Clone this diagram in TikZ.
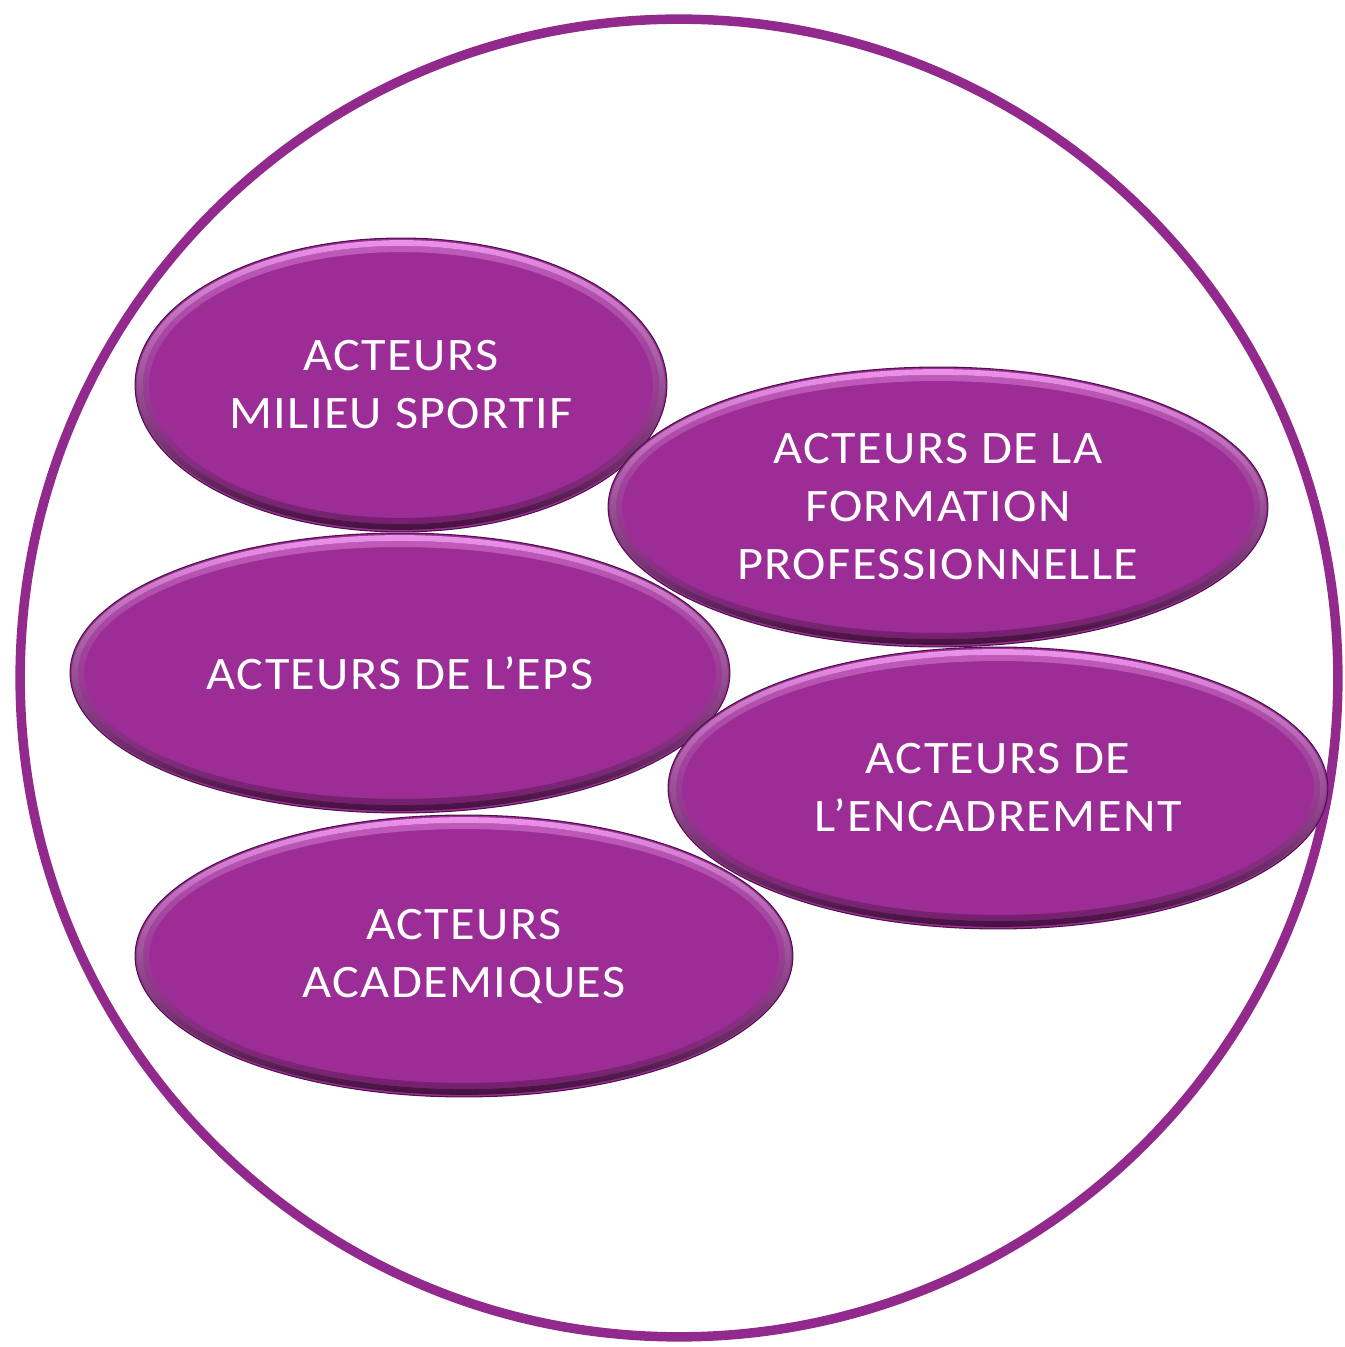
\documentclass[tikz,border=0pt]{standalone}
\usepackage{fontspec}
\setmainfont{Carlito}[FakeStretch=1.08, LetterSpace=3]
\usetikzlibrary{shapes.geometric}
\definecolor{mainp}{HTML}{9C2D96}
\definecolor{ringc}{HTML}{922A8E}
\definecolor{edgep}{HTML}{4A1448}
\definecolor{hil}{HTML}{EC92EA}
\definecolor{shd}{HTML}{45103F}
\tikzset{
  ell/.style 2 args={shape=ellipse, inner sep=0pt,
    minimum width=#1*0.04cm, minimum height=#2*0.04cm,
    fill=mainp, draw=edgep, line width=0.6pt,
    text=white, align=center,
    font=\fontsize{26.5}{33}\selectfont,
    path picture={
      \shade[even odd rule, top color=hil, middle color=mainp, bottom color=shd]
        (path picture bounding box.center) ellipse [x radius=#1*0.02cm-1.2pt, y radius=#2*0.02cm-1.2pt]
        (path picture bounding box.center) ellipse [x radius=#1*0.02cm-4.5pt, y radius=#2*0.02cm-4.5pt];
      \shade[even odd rule, top color=hil, middle color=mainp, bottom color=shd, opacity=0.45]
        (path picture bounding box.center) ellipse [x radius=#1*0.02cm-4.5pt, y radius=#2*0.02cm-4.5pt]
        (path picture bounding box.center) ellipse [x radius=#1*0.02cm-8pt, y radius=#2*0.02cm-8pt];
    }},
  ring/.style={circle, inner sep=0pt, draw=ringc, line width=0.19cm}
}
\begin{document}
\begin{tikzpicture}[x=0.02cm, y=0.02cm]
\useasboundingbox (0,0) rectangle (1345,1347);
\node[ring, minimum size=26.36cm] (outer) at (679,669) {};
\node[ell={266}{147}] (sport) at (401,962) {ACTEURS\\MILIEU SPORTIF};
\node[ell={330}{140}] (eps) at (400,674) {ACTEURS DE L’EPS};
\node[ell={329}{141}] (acad) at (464,391) {ACTEURS\\ACADEMIQUES};
\node[ell={330}{140}] (form) at (938,840) {ACTEURS DE LA\\FORMATION\\PROFESSIONNELLE};
\node[ell={330}{141}] (enc) at (998,559) {ACTEURS DE\\L’ENCADREMENT};
\end{tikzpicture}
\end{document}
